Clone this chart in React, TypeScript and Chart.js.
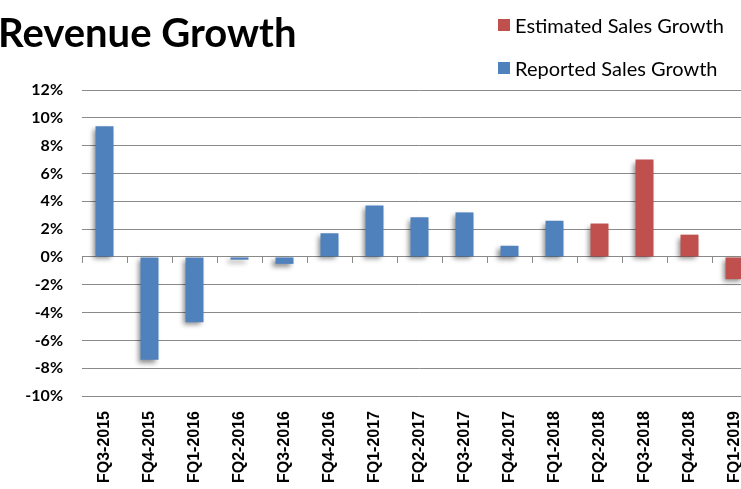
import React, { useEffect, useRef } from "react";
import { Chart, registerables } from "chart.js";

Chart.register(...registerables);

const categories = [
  "FQ3-2015", "FQ4-2015", "FQ1-2016", "FQ2-2016", "FQ3-2016", "FQ4-2016",
  "FQ1-2017", "FQ2-2017", "FQ3-2017", "FQ4-2017", "FQ1-2018", "FQ2-2018",
  "FQ3-2018", "FQ4-2018", "FQ1-2019",
];
const reportedGrowth = [9.4, -7.4, -4.7, -0.2, -0.5, 1.7, 3.7, 2.85, 3.2, 0.8, 2.6, null, null, null, null];
const estimatedGrowth = [null, null, null, null, null, null, null, null, null, null, null, 2.4, 7.0, 1.6, -1.6];
const yMin = -10;
const yMax = 12;
const yStep = 2;

const BLUE = "#4F81BD";
const RED = "#C0504D";
const GRID = "#8a8a8a";

const shadowPlugin = {
  id: "barShadow",
  beforeDatasetsDraw(chart: any) {
    const ctx = chart.ctx;
    ctx.save();
    ctx.shadowColor = "rgba(0,0,0,0.45)";
    ctx.shadowBlur = 5;
    ctx.shadowOffsetX = -3;
    ctx.shadowOffsetY = 3;
  },
  afterDatasetsDraw(chart: any) {
    chart.ctx.restore();
  },
};

export default function App() {
  const ref = useRef<HTMLCanvasElement>(null);
  useEffect(() => {
    if (!ref.current) return;
    const chart = new Chart(ref.current, {
      type: "bar",
      data: {
        labels: categories,
        datasets: [
          { label: "Reported Sales Growth", data: reportedGrowth as any, backgroundColor: BLUE, borderWidth: 0 },
          { label: "Estimated Sales Growth", data: estimatedGrowth as any, backgroundColor: RED, borderWidth: 0 },
        ],
      },
      options: {
        animation: false,
        responsive: false,
        devicePixelRatio: 1,
        layout: { padding: { top: 90, right: 13, left: 0, bottom: 0 } },
        datasets: { bar: { categoryPercentage: 1, barPercentage: 0.4 } } as any,
        plugins: {
          legend: { display: false },
          title: { display: false },
          tooltip: { enabled: false },
        },
        scales: {
          x: {
            stacked: true,
            grid: { display: false, drawTicks: false },
            border: { display: false },
            ticks: {
              minRotation: 90,
              maxRotation: 90,
              autoSkip: false,
              padding: 15,
              color: "#000",
              font: { family: "'Liberation Sans', Arial, sans-serif", weight: "bold", size: 16 },
            },
            afterFit(scale: any) {
              scale.height = 93;
            },
          },
          x2: {
            type: "category",
            labels: categories,
            position: { y: 0 } as any,
            offset: true,
            grid: { display: true, drawOnChartArea: false, drawTicks: true, tickLength: 6, color: GRID, offset: true },
            border: { display: true, color: GRID },
            ticks: { display: false },
          },
          y: {
            stacked: true,
            min: yMin,
            max: yMax,
            grid: { color: GRID, drawTicks: false, lineWidth: 1 },
            border: { display: false },
            ticks: {
              stepSize: yStep,
              padding: 19,
              color: "#000",
              font: { family: "Lato, sans-serif", weight: "bold", size: 16 },
              callback: (v: any) => `${v}%`,
            },
            afterFit(scale: any) {
              scale.width = 82;
            },
          },
        } as any,
      },
      plugins: [shadowPlugin],
    });
    return () => chart.destroy();
  }, []);

  const legendItem = (color: string, text: string, top: number) => (
    <div style={{ position: "absolute", left: 498, top, display: "flex", alignItems: "center", whiteSpace: "nowrap" }}>
      <span style={{ display: "inline-block", width: 12, height: 12, background: color, marginRight: 5 }} />
      <span style={{ fontFamily: "Lato, sans-serif", fontSize: 20, color: "#000", lineHeight: "22px" }}>{text}</span>
    </div>
  );

  return (
    <div style={{ position: "fixed", left: 0, top: 0, width: 741, height: 489, overflow: "hidden", background: "#fff" }}>
      <canvas ref={ref} width={770} height={489} style={{ position: "absolute", left: 0, top: 0 }} />
      <div
        style={{
          position: "absolute",
          left: -2,
          top: 8,
          fontFamily: "Lato, sans-serif",
          fontWeight: "bold",
          fontSize: 40,
          lineHeight: "48px",
          color: "#000",
          whiteSpace: "nowrap",
        }}
      >
        Revenue Growth
      </div>
      {legendItem(RED, "Estimated Sales Growth", 14)}
      {legendItem(BLUE, "Reported Sales Growth", 57)}
    </div>
  );
}
